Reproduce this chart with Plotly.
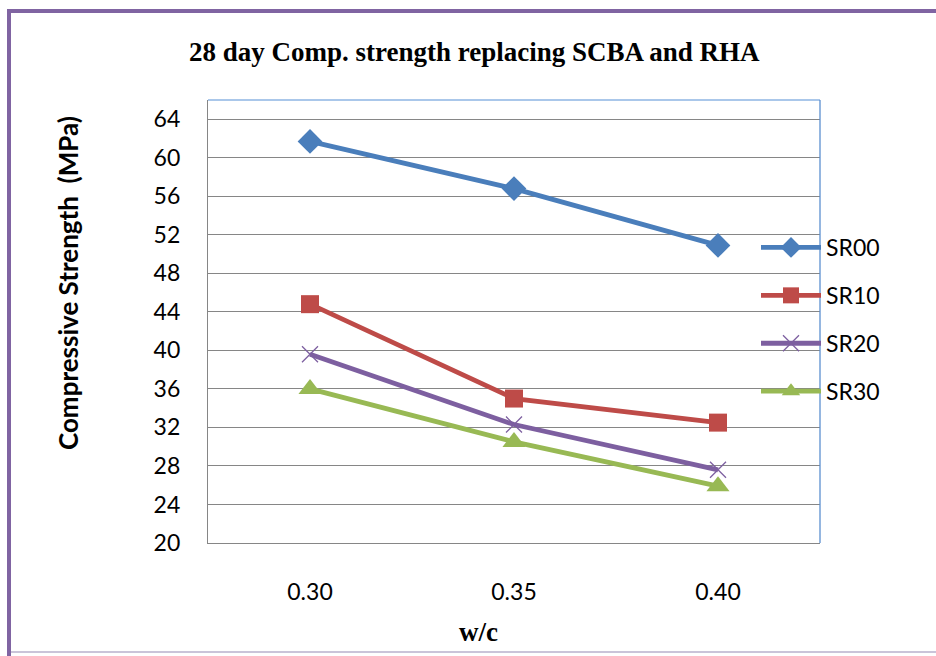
import plotly.graph_objects as go

categories = ["0.30", "0.35", "0.40"]
series_names = ["SR00", "SR10", "SR20", "SR30"]
sr00 = [61.7, 56.8, 50.9]
sr10 = [44.8, 35.0, 32.5]
sr20 = [39.6, 32.3, 27.6]
sr30 = [36.0, 30.5, 25.9]
y_ticks = [20, 24, 28, 32, 36, 40, 44, 48, 52, 56, 60, 64]

W, H = 936, 656
L, R, T, B = 208, 820, 100, 543

def px(x):
    return (x - L) / (R - L)

def py(y):
    return (B - y) / (B - T)

styles = [
    dict(color="#4A7EBB", symbol="diamond", size=19, mline=0),
    dict(color="#BE4B48", symbol="square", size=18, mline=0),
    dict(color="#7D5FA0", symbol="x-thin", size=16, mline=1.3),
    dict(color="#98B954", symbol="triangle-up", size=20, mline=0),
]

fig = go.Figure()
for name, vals, st in zip(series_names, [sr00, sr10, sr20, sr30], styles):
    fig.add_trace(go.Scatter(
        x=categories, y=vals, name=name, mode="lines+markers",
        legendgroup=name,
        line=dict(color=st["color"], width=4.8),
        marker=dict(symbol=st["symbol"], size=st["size"], color=st["color"],
                    line=dict(color=st["color"], width=st["mline"])),
    ))

tick_font = dict(family="Lato, 'Open Sans', sans-serif", size=23, color="#000000")

fig.update_layout(
    width=W, height=H,
    margin=dict(l=L, r=W - R, t=T, b=H - B, pad=0),
    paper_bgcolor="white", plot_bgcolor="white",
    showlegend=True,
    legend=dict(x=px(756), y=py(226), xanchor="left", yanchor="top",
                font=dict(family="Lato, 'Open Sans', sans-serif", size=23, color="#000"),
                bgcolor="rgba(0,0,0,0)", itemwidth=60, tracegroupgap=15,
                traceorder="grouped"),
    xaxis=dict(type="category", range=[-0.5, 2.5], showgrid=False,
               showline=True, linecolor="#868686", linewidth=1.3,
               ticks="", tickfont=tick_font, ticklabelstandoff=28,
               zeroline=False, fixedrange=True),
    yaxis=dict(range=[20, 66], tickvals=y_ticks, ticktext=[str(v) for v in y_ticks],
               showgrid=True, gridcolor="#868686", gridwidth=1.3,
               showline=True, linecolor="#868686", linewidth=1.3,
               ticks="", tickfont=tick_font, ticklabelstandoff=22,
               zeroline=False, fixedrange=True),
    shapes=[
        dict(type="line", xref="paper", yref="paper", x0=0, x1=1, y0=1, y1=1,
             line=dict(color="#8EB4E3", width=1.3)),
        dict(type="line", xref="paper", yref="paper", x0=1, x1=1, y0=0, y1=1,
             line=dict(color="#5B8FD0", width=1.3)),
        dict(type="line", xref="paper", yref="paper", x0=px(9), x1=px(936), y0=py(11), y1=py(11),
             line=dict(color="#8064A2", width=4)),
        dict(type="line", xref="paper", yref="paper", x0=px(9), x1=px(9), y0=py(9), y1=py(656),
             line=dict(color="#8064A2", width=4)),
        dict(type="line", xref="paper", yref="paper", x0=px(11), x1=px(936), y0=py(652), y1=py(652),
             line=dict(color="#B8B0CC", width=1.5)),
    ],
    annotations=[
        dict(text="<b>28 day Comp. strength replacing SCBA and RHA</b>",
             xref="paper", yref="paper", x=px(474), y=py(52), showarrow=False,
             xanchor="center", yanchor="middle",
             font=dict(family="'Liberation Serif', 'DejaVu Serif', serif", size=27, color="#000")),
        dict(text="<b>w/c</b>", xref="paper", yref="paper", x=px(478), y=py(632),
             showarrow=False, xanchor="center", yanchor="middle",
             font=dict(family="'Liberation Serif', serif", size=27, color="#000")),
        dict(text="<b>Compressive Strength\u00a0\u00a0(MPa)</b>", xref="paper", yref="paper",
             x=px(68), y=py(283), showarrow=False, textangle=-90,
             xanchor="center", yanchor="middle",
             font=dict(family="Lato, 'Open Sans', sans-serif", size=26, color="#000")),
    ],
)

fig.write_html("out.html")
